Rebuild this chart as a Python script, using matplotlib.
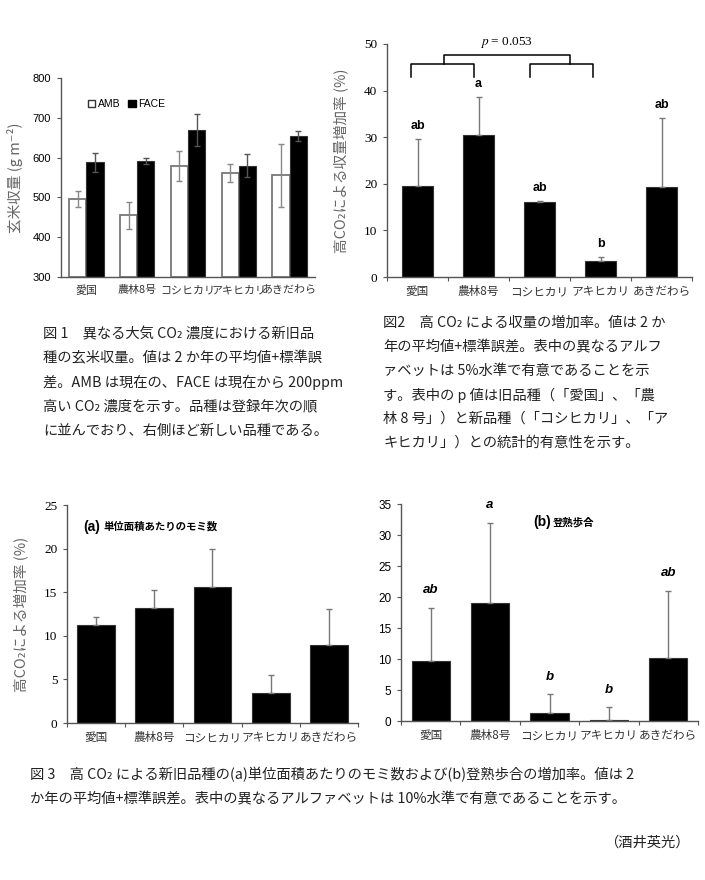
import matplotlib
matplotlib.use("Agg")
import matplotlib.pyplot as plt
import numpy as np
from matplotlib.patches import Patch

plt.rcParams['font.family'] = ['Noto Sans CJK JP', 'DejaVu Sans']
plt.rcParams['mathtext.fontset'] = 'stix'

W, H = 705, 880
JP = ['Noto Sans CJK JP', 'DejaVu Sans']
SERIF = ['Liberation Serif', 'DejaVu Serif']
SANS = ['Liberation Sans', 'DejaVu Sans']

cultivars = ['愛国', '農林8号', 'コシヒカリ', 'アキヒカリ', 'あきだわら']

# 図1 玄米収量 (g m-2)
amb_yield = [496, 455, 579, 562, 556]
amb_se = [21, 34, 37, 23, 79]
face_yield = [588, 591, 670, 580, 654]
face_se = [24, 7, 40, 30, 13]

# 図2 収量増加率 (%)
yield_inc = [19.5, 30.5, 16.0, 3.5, 19.3]
yield_inc_se = [10.2, 8.2, 0.3, 0.8, 14.9]
yield_letters = ['ab', 'a', 'ab', 'b', 'ab']

# 図3 (a) モミ数, (b) 登熟歩合 増加率 (%)
spike_inc = [11.2, 13.2, 15.6, 3.4, 9.0]
spike_inc_se = [0.9, 2.0, 4.3, 2.1, 4.1]
ripen_inc = [9.6, 19.1, 1.3, 0.2, 10.1]
ripen_inc_se = [8.7, 12.9, 3.0, 2.0, 10.9]
ripen_letters = ['ab', 'a', 'b', 'b', 'ab']

fig = plt.figure(figsize=(W / 100, H / 100), dpi=100)


def ax_at(l, t, r, b):
    return fig.add_axes([l / W, 1 - b / H, (r - l) / W, (b - t) / H])


def style(ax, ymin, ymax, step, tickfont, tsize, catsize=8.4):
    x = np.arange(len(cultivars))
    ax.set_xlim(-0.5, len(cultivars) - 0.5)
    ax.set_ylim(ymin, ymax)
    ax.set_yticks(np.arange(ymin, ymax + step / 2, step))
    for s in ['top', 'right']:
        ax.spines[s].set_visible(False)
    for s in ['left', 'bottom']:
        ax.spines[s].set_color('#555555')
        ax.spines[s].set_linewidth(1.0)
    ax.tick_params(axis='y', direction='out', length=3, color='#555555',
                   labelsize=tsize, pad=4)
    for lab in ax.get_yticklabels():
        lab.set_family(tickfont)
    ax.set_xticks(x, minor=True)
    ax.set_xticklabels(cultivars, minor=True)
    ax.tick_params(axis='x', which='minor', length=0, pad=6, labelsize=catsize,
                   labelcolor='#333333')
    return x


# ---- 図1
ax1 = ax_at(61, 78, 315, 277)
x = style(ax1, 300, 800, 100, SANS, 8, catsize=7.9)
ax1.set_xticks([])
bw = 0.34
ax1.bar(x - bw / 2, np.array(amb_yield) - 300, bw, bottom=300, color='white',
        edgecolor='#777777', linewidth=1.3)
ax1.bar(x + bw / 2, np.array(face_yield) - 300, bw, bottom=300, color='black',
        edgecolor='#333333', linewidth=0.8)
ax1.errorbar(x - bw / 2, amb_yield, yerr=amb_se, fmt='none', ecolor='#888888',
             elinewidth=1, capsize=2.5)
ax1.errorbar(x + bw / 2, face_yield, yerr=face_se, fmt='none', ecolor='#555555',
             elinewidth=1, capsize=2.5)
ax1.set_ylabel('玄米収量 (g m⁻²)', fontsize=10.5, color='#666666')
ax1.yaxis.set_label_coords(-0.15, 0.5)
handles = [Patch(facecolor='white', edgecolor='#333333', label='AMB'),
           Patch(facecolor='black', edgecolor='black', label='FACE')]
ax1.legend(handles=handles, loc='upper left', bbox_to_anchor=(0.07, 0.94),
           ncol=2, frameon=False, handlelength=0.7,
           handleheight=0.7, handletextpad=0.2, columnspacing=0.8,
           prop={'family': SANS, 'size': 7.5})

# ---- 図2
ax2 = ax_at(387, 44, 692, 277)
x = style(ax2, 0, 50, 10, SERIF, 9.5)
ax2.set_xticks(np.arange(-0.5, len(cultivars)))
ax2.set_xticklabels([])
ax2.tick_params(axis='x', which='major', length=3, color='#555555')
ax2.bar(x, yield_inc, 0.5, color='black', edgecolor='#333333', linewidth=0.8)
ax2.errorbar(x, yield_inc, yerr=[np.zeros(5), yield_inc_se], fmt='none',
             ecolor='#777777', elinewidth=1, capsize=2)
for xi, v, e, t in zip(x, yield_inc, yield_inc_se, yield_letters):
    ax2.text(xi, v + e + 2.7, t, ha='center', va='center', fontsize=9,
             fontweight='bold', family=SANS)
ax2.set_ylabel('高CO₂による収量増加率 (%)', fontsize=10.5, color='#666666')
ax2.yaxis.set_label_coords(-0.125, 0.5)
bk = dict(color='black', lw=1.1, clip_on=False)
ax2.plot([-0.11, -0.11, 0.92, 0.92], [43.0, 45.7, 45.7, 43.0], **bk)
ax2.plot([1.85, 1.85, 2.88, 2.88], [43.0, 45.7, 45.7, 43.0], **bk)
ax2.plot([0.43, 0.43, 2.5, 2.5], [45.7, 47.6, 47.6, 45.7], **bk)
ax2.text(1.46, 50.3, '$p$ = 0.053', ha='center', va='center', fontsize=9.5,
         family=SERIF)

# ---- 図3 (a)
ax3 = ax_at(67, 505, 358, 723)
x = style(ax3, 0, 25, 5, SERIF, 9.5)
ax3.set_xticks(np.arange(-0.5, len(cultivars)))
ax3.set_xticklabels([])
ax3.tick_params(axis='x', which='major', length=3, color='#555555')
ax3.bar(x, spike_inc, 0.65, color='black', edgecolor='#333333', linewidth=0.8)
ax3.errorbar(x, spike_inc, yerr=[np.zeros(5), spike_inc_se], fmt='none',
             ecolor='#777777', elinewidth=1, capsize=2)
ax3.set_ylabel('高CO₂による増加率 (%)', fontsize=10.5, color='#666666')
ax3.yaxis.set_label_coords(-0.13, 0.5)
ax3.text(0.055, 0.9, '(a)', transform=ax3.transAxes, fontsize=10,
         fontweight='bold', family=SANS, va='center')
ax3.text(0.125, 0.9, '単位面積あたりのモミ数', transform=ax3.transAxes,
         fontsize=7.5, fontweight='bold', va='center')

# ---- 図3 (b)
ax4 = ax_at(401, 504, 698, 721)
x = style(ax4, 0, 35, 5, SANS, 8.5)
ax4.set_xticks(np.arange(-0.5, len(cultivars)))
ax4.set_xticklabels([])
ax4.tick_params(axis='x', which='major', length=3, color='#555555')
ax4.bar(x, ripen_inc, 0.64, color='black', edgecolor='#333333', linewidth=0.8)
ax4.errorbar(x, ripen_inc, yerr=[np.zeros(5), ripen_inc_se], fmt='none',
             ecolor='#777777', elinewidth=1, capsize=2)
for xi, v, e, t in zip(x, ripen_inc, ripen_inc_se, ripen_letters):
    ax4.text(xi, v + e + 2.8, t, ha='center', va='center', fontsize=9.5,
             fontweight='bold', style='italic', family=SANS)
ax4.text(0.444, 0.915, '(b)', transform=ax4.transAxes, fontsize=10,
         fontweight='bold', family=SANS, va='center')
ax4.text(0.51, 0.915, '登熟歩合', transform=ax4.transAxes,
         fontsize=7.5, fontweight='bold', va='center')

# ---- captions
cap1 = ['図 1　異なる大気 CO₂ 濃度における新旧品',
        '種の玄米収量。値は 2 か年の平均値+標準誤',
        '差。AMB は現在の、FACE は現在から 200ppm',
        '高い CO₂ 濃度を示す。品種は登録年次の順',
        'に並んでおり、右側ほど新しい品種である。']
cap2 = ['図2　高 CO₂ による収量の増加率。値は 2 か',
        '年の平均値+標準誤差。表中の異なるアルフ',
        'ァベットは 5%水準で有意であることを示',
        'す。表中の p 値は旧品種（「愛国」、「農',
        '林 8 号」）と新品種（「コシヒカリ」、「ア',
        'キヒカリ」）との統計的有意性を示す。']
cap3 = ['図 3　高 CO₂ による新旧品種の(a)単位面積あたりのモミ数および(b)登熟歩合の増加率。値は 2',
        'か年の平均値+標準誤差。表中の異なるアルファベットは 10%水準で有意であることを示す。']


def caption(lines, x0, y0, dy, size=10.3):
    for i, s in enumerate(lines):
        fig.text(x0 / W, 1 - (y0 + i * dy) / H, s, fontsize=size,
                 family=JP, color='#222222', va='center', ha='left')


caption(cap1, 43, 334, 24.2)
caption(cap2, 383, 323, 24.0)
caption(cap3, 30, 775, 24.5)
fig.text(690 / W, 1 - 843 / H, '（酒井英光）', fontsize=10.3, family=JP,
         color='#222222', va='center', ha='right')

fig.savefig('out.png', dpi=100)
